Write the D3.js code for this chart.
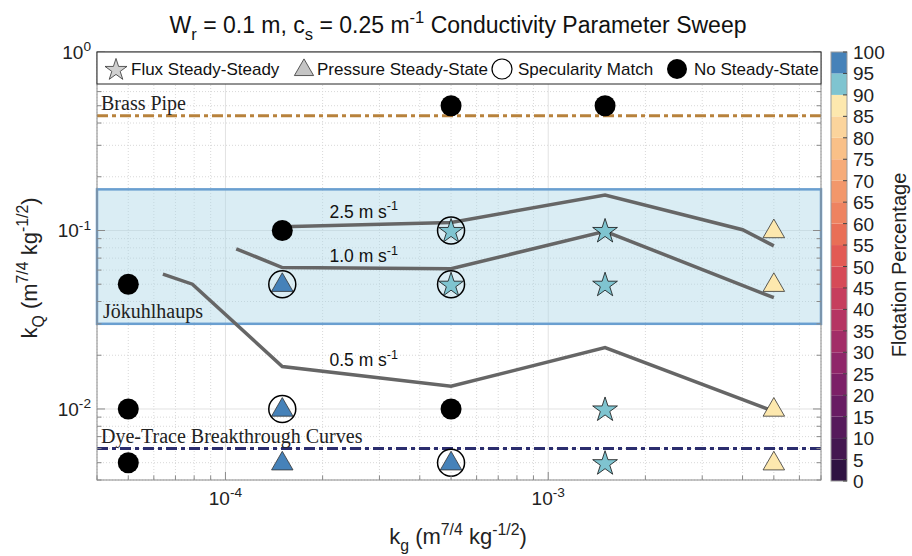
<!DOCTYPE html>
<html>
<head>
<meta charset="utf-8">
<script src="https://cdn.jsdelivr.net/npm/d3@7"></script>
<style>
body { margin: 0; background: #fff; }
svg { display: block; font-family: "Liberation Sans", Arial, Helvetica, sans-serif; }
</style>
</head>
<body>
<svg id="chart" width="912" height="556"></svg>
<script>
// ---- data ----
var noSteadyKg = [5e-5, 5e-5, 5e-5, 1.5e-4, 5e-4, 5e-4, 1.5e-3];
var noSteadyKq = [0.05, 0.01, 0.005, 0.1, 0.5, 0.01, 0.5];

var fluxKg  = [5e-4, 5e-4, 1.5e-3, 1.5e-3, 1.5e-3, 1.5e-3];
var fluxKq  = [0.1, 0.05, 0.1, 0.05, 0.01, 0.005];
var fluxPct = [92, 92, 92, 92, 92, 92];

var pressureKg  = [1.5e-4, 1.5e-4, 1.5e-4, 5e-4, 5e-3, 5e-3, 5e-3, 5e-3];
var pressureKq  = [0.05, 0.01, 0.005, 0.005, 0.1, 0.05, 0.01, 0.005];
var pressurePct = [97, 97, 97, 97, 87, 87, 87, 87];

var specKg = [1.5e-4, 1.5e-4, 5e-4, 5e-4, 5e-4];
var specKq = [0.05, 0.01, 0.1, 0.05, 0.005];

// velocity contours
var v25Kg = [1.5e-4, 5e-4, 1.5e-3, 4e-3, 5e-3];
var v25Kq = [0.105, 0.111, 0.158, 0.101, 0.082];
var v10Kg = [1.08e-4, 1.5e-4, 5e-4, 1.5e-3, 5e-3];
var v10Kq = [0.079, 0.062, 0.061, 0.099, 0.042];
var v05Kg = [6.4e-5, 7.9e-5, 1.5e-4, 5e-4, 1.5e-3, 5e-3];
var v05Kq = [0.057, 0.050, 0.0173, 0.0134, 0.0221, 0.0097];
var velNames = ["2.5", "1.0", "0.5"];
var velLabelKg = [2.1e-4, 2.1e-4, 2.1e-4];
var velLabelKq = [0.118, 0.0664, 0.0174];

// reference ranges
var brassKq = 0.44;
var dyeKq = 0.006;
var jokRange = [0.03, 0.17];

var cbTicks = d3.range(0, 101, 5);
var cbColors = ["#2f1342", "#441750", "#561a5b", "#681c63", "#7c2067", "#8f2669", "#a22d67",
  "#b53563", "#c63e5d", "#d64a57", "#e25a54", "#e96f56", "#ee8360", "#f2976b", "#f6ab78",
  "#f9c088", "#fbd49c", "#fde8ae", "#7fc4d0", "#4682b9"];

var legendNames = ["Flux Steady-Steady", "Pressure Steady-State", "Specularity Match", "No Steady-State"];

// ---- layout ----
var svg = d3.select("#chart");
var L = 97, R = 821, T = 52, B = 480;

var x = d3.scaleLog().domain([4e-5, 7e-3]).range([L, R]);
var y = d3.scaleLog().domain([4e-3, 1]).range([B, T]);
var cy = d3.scaleLinear().domain([0, 100]).range([481, 52]);
var pctColor = d3.scaleQuantize().domain([0, 100]).range(cbColors);

function rich(sel, parts, size) {
	var cur = 0;
	parts.forEach(function(p){
		var s = p[1] || "n";
		var off = s === "sup" ? -0.42 * size : (s === "sub" ? 0.3 * size : 0);
		sel.append("tspan")
			.attr("dy", off - cur)
			.attr("font-size", s === "n" ? size : size * 0.72)
			.text(p[0]);
		cur = off;
	});
}

function logTicks(lo, hi){
	var out = [];
	for (var e = -6; e <= 1; e++){
		for (var m = 1; m <= 9; m++){
			var v = m * Math.pow(10, e);
			if (v >= lo * 0.9999 && v <= hi * 1.0001) out.push({v: v, major: m === 1});
		}
	}
	return out;
}
var xt = logTicks(4e-5, 7e-3);
var yt = logTicks(4e-3, 1);

// grid
var grid = svg.append("g");
grid.selectAll("line.gx").data(xt).enter().append("line")
	.attr("x1", function(d){ return x(d.v); }).attr("x2", function(d){ return x(d.v); })
	.attr("y1", T).attr("y2", B)
	.attr("stroke", function(d){ return d.major ? "#e2e2e2" : "#d8d8d8"; })
	.attr("stroke-dasharray", function(d){ return d.major ? null : "1,2"; });
grid.selectAll("line.gy").data(yt).enter().append("line")
	.attr("y1", function(d){ return y(d.v); }).attr("y2", function(d){ return y(d.v); })
	.attr("x1", L).attr("x2", R)
	.attr("stroke", function(d){ return d.major ? "#e2e2e2" : "#d8d8d8"; })
	.attr("stroke-dasharray", function(d){ return d.major ? null : "1,2"; });

// Jokulhlaup box
svg.append("rect")
	.attr("x", L).attr("width", R - L)
	.attr("y", y(jokRange[1])).attr("height", y(jokRange[0]) - y(jokRange[1]))
	.attr("fill", "#add8e6").attr("fill-opacity", 0.45)
	.attr("stroke", "#6a9fd0").attr("stroke-width", 2.5);

// reference lines
svg.append("line").attr("x1", L).attr("x2", R)
	.attr("y1", y(brassKq)).attr("y2", y(brassKq))
	.attr("stroke", "#b8823c").attr("stroke-width", 3).attr("stroke-dasharray", "11,4,4,4");
svg.append("line").attr("x1", L).attr("x2", R)
	.attr("y1", y(dyeKq)).attr("y2", y(dyeKq))
	.attr("stroke", "#2b2d6e").attr("stroke-width", 3).attr("stroke-dasharray", "11,4,4,4");

var serif = "Liberation Serif, serif";
svg.append("text").attr("x", 101).attr("y", y(brassKq) - 6)
	.attr("font-family", serif).attr("font-size", 20).attr("fill", "#222").text("Brass Pipe");
svg.append("text").attr("x", 103).attr("y", y(jokRange[0]) - 6)
	.attr("font-family", serif).attr("font-size", 20).attr("fill", "#222").text("Jökuhlhaups");
svg.append("text").attr("x", 101).attr("y", y(dyeKq) - 6)
	.attr("font-family", serif).attr("font-size", 20).attr("fill", "#222").text("Dye-Trace Breakthrough Curves");

// velocity contours
var line = d3.line().x(function(d){ return x(d[0]); }).y(function(d){ return y(d[1]); });
[[v25Kg, v25Kq], [v10Kg, v10Kq], [v05Kg, v05Kq]].forEach(function(s){
	svg.append("path")
		.datum(d3.zip(s[0], s[1]))
		.attr("d", line)
		.attr("fill", "none").attr("stroke", "#666").attr("stroke-width", 3.5);
});
velNames.forEach(function(n, i){
	var t = svg.append("text").attr("x", x(velLabelKg[i])).attr("y", y(velLabelKq[i])).attr("fill", "#111");
	rich(t, [[n + " m s"], ["-1", "sup"]], 17.5);
});

// markers
var starSym = d3.symbol().type(d3.symbolStar).size(190);
var triSym = d3.symbol().type(d3.symbolTriangle).size(200);

svg.append("g").selectAll("circle")
	.data(d3.zip(noSteadyKg, noSteadyKq)).enter().append("circle")
	.attr("cx", function(d){ return x(d[0]); })
	.attr("cy", function(d){ return y(d[1]); })
	.attr("r", 10.5).attr("fill", "#000");

svg.append("g").selectAll("path")
	.data(d3.zip(pressureKg, pressureKq, pressurePct)).enter().append("path")
	.attr("d", triSym)
	.attr("transform", function(d){ return "translate(" + x(d[0]) + "," + (y(d[1]) + 1) + ")"; })
	.attr("fill", function(d){ return pctColor(d[2]); })
	.attr("stroke", "#333").attr("stroke-width", 0.8);

svg.append("g").selectAll("path")
	.data(d3.zip(fluxKg, fluxKq, fluxPct)).enter().append("path")
	.attr("d", starSym)
	.attr("transform", function(d){ return "translate(" + x(d[0]) + "," + (y(d[1]) + 1) + ")"; })
	.attr("fill", function(d){ return pctColor(d[2]); })
	.attr("stroke", "#111").attr("stroke-width", 0.8);

svg.append("g").selectAll("circle")
	.data(d3.zip(specKg, specKq)).enter().append("circle")
	.attr("cx", function(d){ return x(d[0]); })
	.attr("cy", function(d){ return y(d[1]); })
	.attr("r", 13.5).attr("fill", "none").attr("stroke", "#000").attr("stroke-width", 1.5);

// axes box + ticks
svg.append("rect").attr("x", L).attr("y", T).attr("width", R - L).attr("height", B - T)
	.attr("fill", "none").attr("stroke", "#8a8a8a").attr("stroke-width", 1);
var tk = svg.append("g").attr("stroke", "#8a8a8a");
xt.forEach(function(d){
	var len = d.major ? 8 : 4.5;
	tk.append("line").attr("x1", x(d.v)).attr("x2", x(d.v)).attr("y1", B).attr("y2", B - len);
});
yt.forEach(function(d){
	var len = d.major ? 8 : 4.5;
	tk.append("line").attr("y1", y(d.v)).attr("y2", y(d.v)).attr("x1", L).attr("x2", L + len);
	tk.append("line").attr("y1", y(d.v)).attr("y2", y(d.v)).attr("x1", R).attr("x2", R - len);
});

// tick labels
xt.filter(function(d){ return d.major; }).forEach(function(d){
	var t = svg.append("text").attr("x", x(d.v)).attr("y", 505)
		.attr("text-anchor", "middle").attr("fill", "#222");
	rich(t, [["10"], [String(Math.round(Math.log10(d.v))), "sup"]], 19);
});
yt.filter(function(d){ return d.major; }).forEach(function(d){
	var t = svg.append("text").attr("x", 91).attr("y", y(d.v) + 7)
		.attr("text-anchor", "end").attr("fill", "#222");
	rich(t, [["10"], [String(Math.round(Math.log10(d.v))), "sup"]], 19);
});

// axis labels
var xl = svg.append("text").attr("x", 458).attr("y", 544).attr("text-anchor", "middle").attr("fill", "#222");
rich(xl, [["k"], ["g", "sub"], [" (m"], ["7/4", "sup"], [" kg"], ["-1/2", "sup"], [")"]], 22);
var yl = svg.append("text").attr("transform", "translate(37,268) rotate(-90)")
	.attr("text-anchor", "middle").attr("fill", "#222");
rich(yl, [["k"], ["Q", "sub"], [" (m"], ["7/4", "sup"], [" kg"], ["-1/2", "sup"], [")"]], 22);

// title
var tt = svg.append("text").attr("x", 458).attr("y", 33).attr("text-anchor", "middle").attr("fill", "#111");
rich(tt, [["W"], ["r", "sub"], [" = 0.1 m, c"], ["s", "sub"], [" = 0.25 m"], ["-1", "sup"], [" Conductivity Parameter Sweep"]], 23);

// legend
var lg = svg.append("g");
lg.append("rect").attr("x", L).attr("y", T).attr("width", R - L).attr("height", 32)
	.attr("fill", "#fff").attr("stroke", "#262626").attr("stroke-width", 1);
var legX = [116, 304, 502, 677];
var legTx = [131, 317, 518, 694];
var ly = 69;
lg.append("path").attr("d", d3.symbol().type(d3.symbolStar).size(150))
	.attr("transform", "translate(" + legX[0] + "," + (ly + 1) + ")")
	.attr("fill", "#d0d0d0").attr("stroke", "#333").attr("stroke-width", 0.8);
lg.append("path").attr("d", d3.symbol().type(d3.symbolTriangle).size(160))
	.attr("transform", "translate(" + legX[1] + "," + (ly + 1) + ")")
	.attr("fill", "#c4c4c4").attr("stroke", "#333").attr("stroke-width", 0.8);
lg.append("circle").attr("cx", legX[2]).attr("cy", ly).attr("r", 10)
	.attr("fill", "none").attr("stroke", "#000").attr("stroke-width", 1.2);
lg.append("circle").attr("cx", legX[3]).attr("cy", ly).attr("r", 10).attr("fill", "#000");
legendNames.forEach(function(n, i){
	lg.append("text").attr("x", legTx[i]).attr("y", ly + 6).attr("font-size", 17).attr("fill", "#111").text(n);
});

// colorbar
var cb = svg.append("g");
cb.selectAll("rect").data(cbColors).enter().append("rect")
	.attr("x", 831).attr("width", 16)
	.attr("y", function(d, i){ return cy((i + 1) * 5); })
	.attr("height", function(d, i){ return cy(i * 5) - cy((i + 1) * 5); })
	.attr("fill", function(d){ return d; });
cb.append("rect").attr("x", 831).attr("y", cy(100)).attr("width", 16).attr("height", cy(0) - cy(100))
	.attr("fill", "none").attr("stroke", "#9a9a9a");
cb.selectAll("line").data(cbTicks).enter().append("line")
	.attr("x1", 847).attr("x2", 843)
	.attr("y1", function(d){ return cy(d); }).attr("y2", function(d){ return cy(d); })
	.attr("stroke", "#444");
cb.selectAll("text").data(cbTicks).enter().append("text")
	.attr("x", 853).attr("y", function(d){ return cy(d) + 7; })
	.attr("font-size", 19).attr("fill", "#222")
	.text(function(d){ return d; });
svg.append("text").attr("transform", "translate(906,265) rotate(-90)")
	.attr("text-anchor", "middle").attr("font-size", 20).attr("fill", "#222")
	.text("Flotation Percentage");
</script>
</body>
</html>
